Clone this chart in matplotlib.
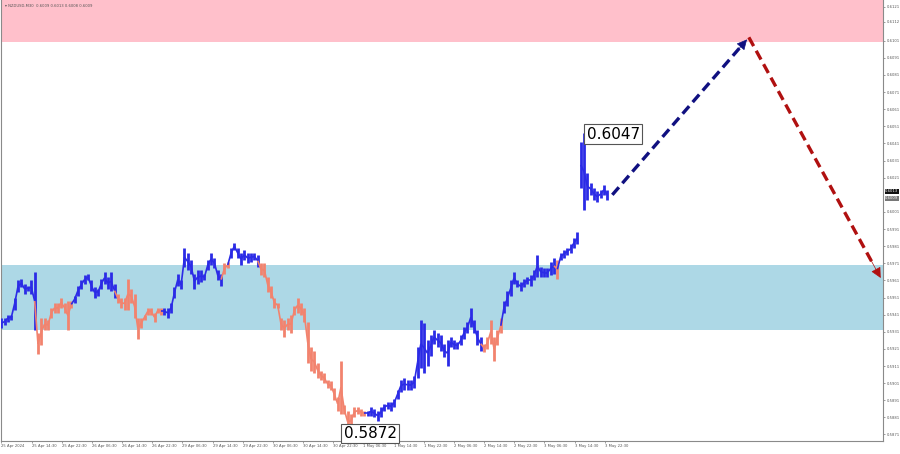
import numpy as np
import matplotlib
matplotlib.use("Agg")
import matplotlib.pyplot as plt
from matplotlib.collections import LineCollection

# ---- data (NZDUSD M30, sampled every ~1.8 bars) ----
highs = [
    0.5939, 0.5939, 0.5941, 0.5941, 0.5951, 0.5961, 0.5962, 0.5959, 0.5958, 0.5961,
    0.5966, 0.5930, 0.5939, 0.5939, 0.5938, 0.5945, 0.5948, 0.5948, 0.5951, 0.5948,
    0.5949, 0.5949, 0.5952, 0.5958, 0.5961, 0.5964, 0.5965, 0.5961, 0.5957, 0.5956,
    0.5962, 0.5966, 0.5963, 0.5966, 0.5959, 0.5953, 0.5951, 0.5951, 0.5962, 0.5956,
    0.5953, 0.5939, 0.5939, 0.5941, 0.5945, 0.5945, 0.5942, 0.5945, 0.5945, 0.5945,
    0.5945, 0.5948, 0.5957, 0.5965, 0.5961, 0.5980, 0.5977, 0.5973, 0.5965, 0.5967,
    0.5967, 0.5965, 0.5973, 0.5977, 0.5974, 0.5967, 0.5965, 0.5971, 0.5972, 0.5980,
    0.5983, 0.5980, 0.5977, 0.5979, 0.5977, 0.5977, 0.5977, 0.5976, 0.5971, 0.5971,
    0.5963, 0.5958, 0.5951, 0.5948, 0.5939, 0.5938, 0.5939, 0.5941, 0.5946, 0.5951,
    0.5948, 0.5945, 0.5937, 0.5922, 0.5920, 0.5913, 0.5908, 0.5907, 0.5903, 0.5902,
    0.5898, 0.5893, 0.5914, 0.5888, 0.5885, 0.5883, 0.5887, 0.5887, 0.5886, 0.5885,
    0.5885, 0.5887, 0.5886, 0.5885, 0.5887, 0.5889, 0.5890, 0.5890, 0.5892, 0.5897,
    0.5903, 0.5904, 0.5903, 0.5903, 0.5905, 0.5922, 0.5938, 0.5936, 0.5926, 0.5929,
    0.5932, 0.5930, 0.5929, 0.5924, 0.5926, 0.5928, 0.5926, 0.5925, 0.5929, 0.5934,
    0.5937, 0.5945, 0.5938, 0.5932, 0.5928, 0.5924, 0.5928, 0.5938, 0.5928, 0.5932,
    0.5939, 0.5949, 0.5955, 0.5961, 0.5966, 0.5961, 0.5960, 0.5962, 0.5963, 0.5964,
    0.5967, 0.5976, 0.5969, 0.5968, 0.5968, 0.5972, 0.5974, 0.5973, 0.5977, 0.5979,
    0.5980, 0.5982, 0.5986, 0.5989, 0.6042, 0.6047, 0.6024, 0.6018, 0.6015, 0.6013,
    0.6014, 0.6017, 0.6014,
]
lows = [
    0.5933, 0.5935, 0.5937, 0.5938, 0.5944, 0.5954, 0.5957, 0.5953, 0.5955, 0.5953,
    0.5932, 0.5918, 0.5923, 0.5932, 0.5932, 0.5939, 0.5942, 0.5942, 0.5945, 0.5942,
    0.5932, 0.5945, 0.5948, 0.5952, 0.5956, 0.5959, 0.5961, 0.5955, 0.5951, 0.5952,
    0.5956, 0.5959, 0.5956, 0.5955, 0.5951, 0.5948, 0.5945, 0.5944, 0.5944, 0.5948,
    0.5939, 0.5927, 0.5933, 0.5938, 0.5941, 0.5941, 0.5937, 0.5942, 0.5941, 0.5941,
    0.5939, 0.5942, 0.5951, 0.5958, 0.5956, 0.5969, 0.5967, 0.5965, 0.5956, 0.5959,
    0.5960, 0.5961, 0.5967, 0.5970, 0.5968, 0.5961, 0.5958, 0.5965, 0.5968, 0.5974,
    0.5979, 0.5974, 0.5970, 0.5973, 0.5971, 0.5972, 0.5973, 0.5969, 0.5964, 0.5963,
    0.5954, 0.5951, 0.5945, 0.5945, 0.5932, 0.5928, 0.5932, 0.5930, 0.5941, 0.5942,
    0.5941, 0.5937, 0.5913, 0.5908, 0.5907, 0.5904, 0.5903, 0.5901, 0.5898, 0.5897,
    0.5891, 0.5885, 0.5883, 0.5883, 0.5872, 0.5875, 0.5881, 0.5883, 0.5882, 0.5882,
    0.5882, 0.5882, 0.5881, 0.5879, 0.5881, 0.5885, 0.5886, 0.5885, 0.5887, 0.5892,
    0.5896, 0.5897, 0.5897, 0.5897, 0.5898, 0.5904, 0.5910, 0.5907, 0.5911, 0.5917,
    0.5924, 0.5922, 0.5920, 0.5916, 0.5911, 0.5922, 0.5921, 0.5921, 0.5923, 0.5927,
    0.5930, 0.5934, 0.5930, 0.5923, 0.5920, 0.5919, 0.5921, 0.5924, 0.5914, 0.5923,
    0.5930, 0.5942, 0.5946, 0.5952, 0.5959, 0.5957, 0.5955, 0.5957, 0.5959, 0.5958,
    0.5961, 0.5963, 0.5963, 0.5963, 0.5963, 0.5964, 0.5965, 0.5962, 0.5973, 0.5974,
    0.5976, 0.5977, 0.5980, 0.5982, 0.6015, 0.6002, 0.6008, 0.6011, 0.6008, 0.6007,
    0.6009, 0.6011, 0.6008,
]
# sample ranges drawn in the "down" colour (first, last)
down_swings = [(11, 21), (35, 48), (67, 68), (78, 109), (145, 150), (167, 167)]

# zones
resist_zone = (0.6100, 0.6130)
support_zone = (0.5932, 0.5970)

# forecast path: start, target, next target
fc_x = [183.5, 224.5, 264.5]
fc_y = [0.6011, 0.6103, 0.5961]

peak_label = "0.6047"
low_label = "0.5872"

time_labels = ["25 Apr 2024", "25 Apr 14:30", "25 Apr 22:30", "26 Apr 06:30", "26 Apr 14:30",
               "26 Apr 22:30", "29 Apr 06:30", "29 Apr 14:30", "29 Apr 22:30", "30 Apr 06:30",
               "30 Apr 14:30", "30 Apr 22:30", "1 May 06:30", "1 May 14:30", "1 May 22:30",
               "2 May 06:30", "2 May 14:30", "2 May 22:30", "3 May 06:30", "3 May 14:30",
               "3 May 22:30"]
price_ticks = [0.6121, 0.6112, 0.6101, 0.6091, 0.6081, 0.6071, 0.6061, 0.6051, 0.6041,
               0.6031, 0.6021, 0.6001, 0.5991, 0.5981, 0.5971, 0.5961, 0.5951, 0.5941,
               0.5931, 0.5921, 0.5911, 0.5901, 0.5891, 0.5881, 0.5871]

UP = "#2b2be6"
DOWN = "#f2836e"
TICK_STEP = 9.06  # samples per 8 hours
SMALL = 2.7

fig = plt.figure(figsize=(9, 4.54), dpi=100)
ax = fig.add_axes([0.0015, 1 - 441 / 454, 882 / 900, 441 / 454])

ax.axhspan(*resist_zone, color="pink", lw=0, zorder=0)
ax.axhspan(*support_zone, color="lightblue", lw=0, zorder=0)

n = len(highs)
x = np.arange(n)
colors = [UP] * n
for a, b in down_swings:
    for i in range(a, b + 1):
        colors[i] = DOWN
ax.vlines(x, lows, highs, colors=colors, lw=2.0, zorder=3)

# thin link between neighbouring bars so the swing reads as one trace
mid = (np.array(highs) + np.array(lows)) / 2
segs = [[(i, mid[i]), (i + 1, mid[i + 1])] for i in range(n - 1) if i != 173]
seg_cols = [colors[i + 1] for i in range(n - 1) if i != 173]
ax.add_collection(LineCollection(segs, colors=seg_cols, lw=1.2, zorder=3))

# forecast arrows
for (x0, x1, y0, y1, c) in [(fc_x[0], fc_x[1], fc_y[0], fc_y[1], "#101080"),
                            (fc_x[1], fc_x[2], fc_y[1], fc_y[2], "#b01010")]:
    ax.plot([x0, x1 - (x1 - x0) * 0.06], [y0, y1 - (y1 - y0) * 0.06], color=c, lw=2.4,
            ls=(0, (3, 1.6)), zorder=4)
    ax.annotate("", xy=(x1, y1), xytext=(x1 - (x1 - x0) * 0.12, y1 - (y1 - y0) * 0.12),
                arrowprops=dict(arrowstyle="-|>", color=c, lw=0.5, mutation_scale=16),
                zorder=5)

# price labels
ipk = int(np.argmax(highs))
ilo = int(np.argmin(lows))
box = dict(boxstyle="square,pad=0.15", fc="white", ec="#555555", lw=0.8)
ax.text(ipk + 0.8, highs[ipk] - 0.00005, peak_label, fontsize=11, ha="left", va="center",
        bbox=box, zorder=6)
ax.text(ilo - 1.2, lows[ilo] - 0.00005, low_label, fontsize=11, ha="left", va="center",
        bbox=box, zorder=6)

ax.set_xlim(0, 264.9)
ax.set_ylim(0.58672, 0.61248)

ax.set_xticks(np.arange(len(time_labels)) * TICK_STEP)
ax.set_xticklabels(time_labels, fontsize=SMALL, color="#555555", ha="left")
ax.yaxis.tick_right()
ax.set_yticks(price_ticks)
ax.set_yticklabels([f"{p:.4f}" for p in price_ticks], fontsize=SMALL, color="#555555")
ax.tick_params(axis="both", length=1.5, width=0.5, color="#777777", pad=1)

for s in ["left", "bottom", "right"]:
    ax.spines[s].set_color("#8a8a8a")
    ax.spines[s].set_linewidth(0.8)
ax.spines["top"].set_visible(False)

# current bid / ask markers on the price scale
ax.text(1.002, 0.6013, "0.6013", transform=ax.get_yaxis_transform(), fontsize=SMALL,
        color="white", va="center", ha="left",
        bbox=dict(boxstyle="square,pad=0.15", fc="#111111", ec="none"))
ax.text(1.002, 0.6009, "0.6009", transform=ax.get_yaxis_transform(), fontsize=SMALL,
        color="white", va="center", ha="left",
        bbox=dict(boxstyle="square,pad=0.15", fc="#777777", ec="none"))

ax.text(0.004, 0.992, "\u25be NZDUSD,M30  0.6009 0.6013 0.6008 0.6009", transform=ax.transAxes,
        fontsize=SMALL, color="#555555", va="top", ha="left")

fig.savefig("out.png", dpi=100)
